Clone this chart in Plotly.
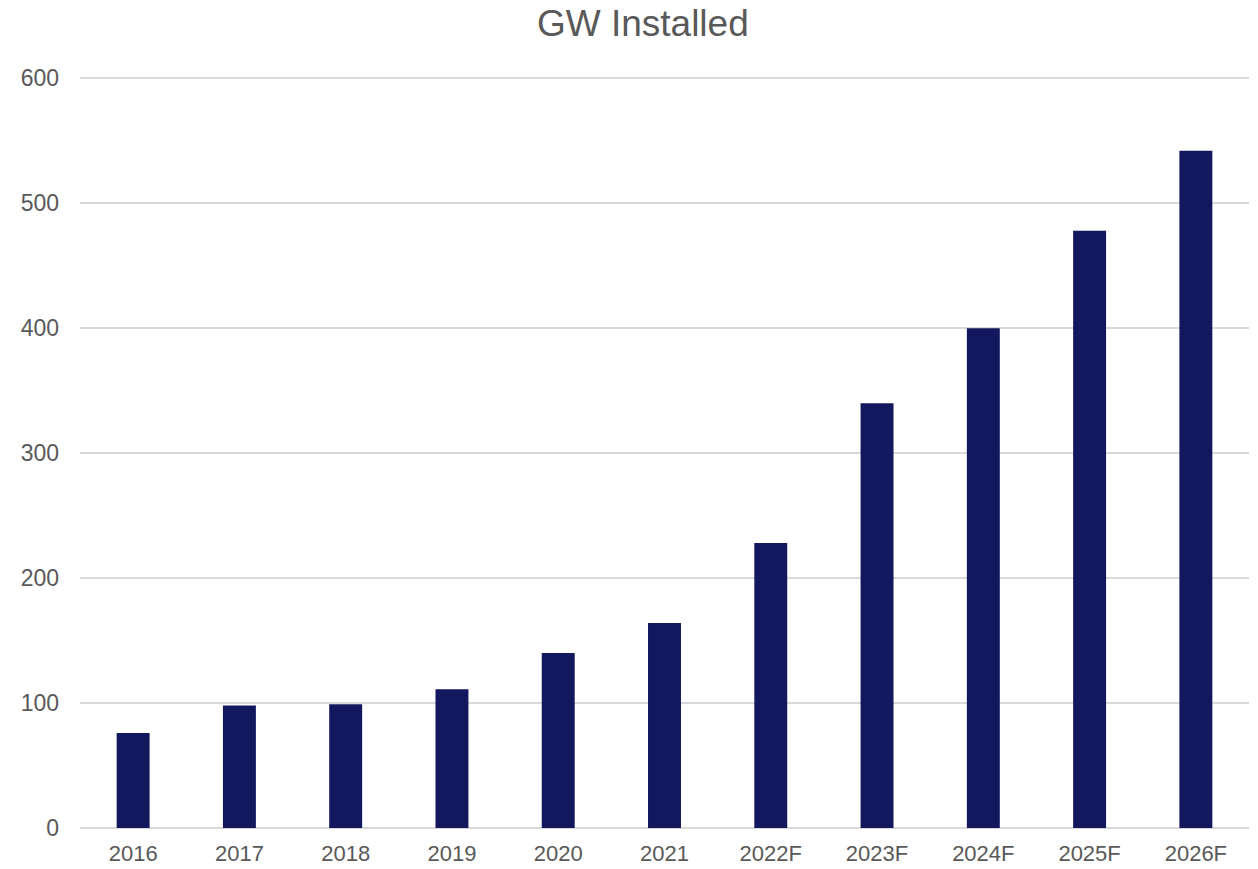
import plotly.graph_objects as go

years = ["2016", "2017", "2018", "2019", "2020", "2021",
         "2022F", "2023F", "2024F", "2025F", "2026F"]
gw_installed = [76, 98, 99, 111, 140, 164, 228, 340, 400, 478, 542]

bar_color = "#12175E"
text_color = "#595959"
grid_color = "#D9D9D9"

fig = go.Figure(
    go.Bar(x=years, y=gw_installed, marker=dict(color=bar_color, line=dict(width=0)))
)

fig.update_layout(
    width=1258,
    height=869,
    margin=dict(l=80, r=9, t=77, b=41),
    paper_bgcolor="white",
    plot_bgcolor="white",
    bargap=0.69,
    font=dict(family="Liberation Sans, Arial, sans-serif", color=text_color, size=23),
    title=dict(
        text="GW Installed",
        font=dict(size=37, color=text_color),
        x=0.511, xref="container", xanchor="center",
        y=1 - 23 / 869, yref="container", yanchor="middle",
    ),
    showlegend=False,
)

fig.update_yaxes(
    range=[0, 601],
    tickvals=[0, 100, 200, 300, 400, 500, 600],
    showgrid=True,
    gridcolor=grid_color,
    gridwidth=1.5,
    zeroline=True,
    zerolinecolor=grid_color,
    zerolinewidth=1.5,
    showline=False,
    ticks="",
    ticklabelstandoff=20,
    automargin=False,
)

fig.update_xaxes(
    showgrid=False,
    showline=False,
    ticks="",
    ticklabelstandoff=10,
    tickfont=dict(size=22),
    automargin=False,
)

fig.write_html("out.html")
